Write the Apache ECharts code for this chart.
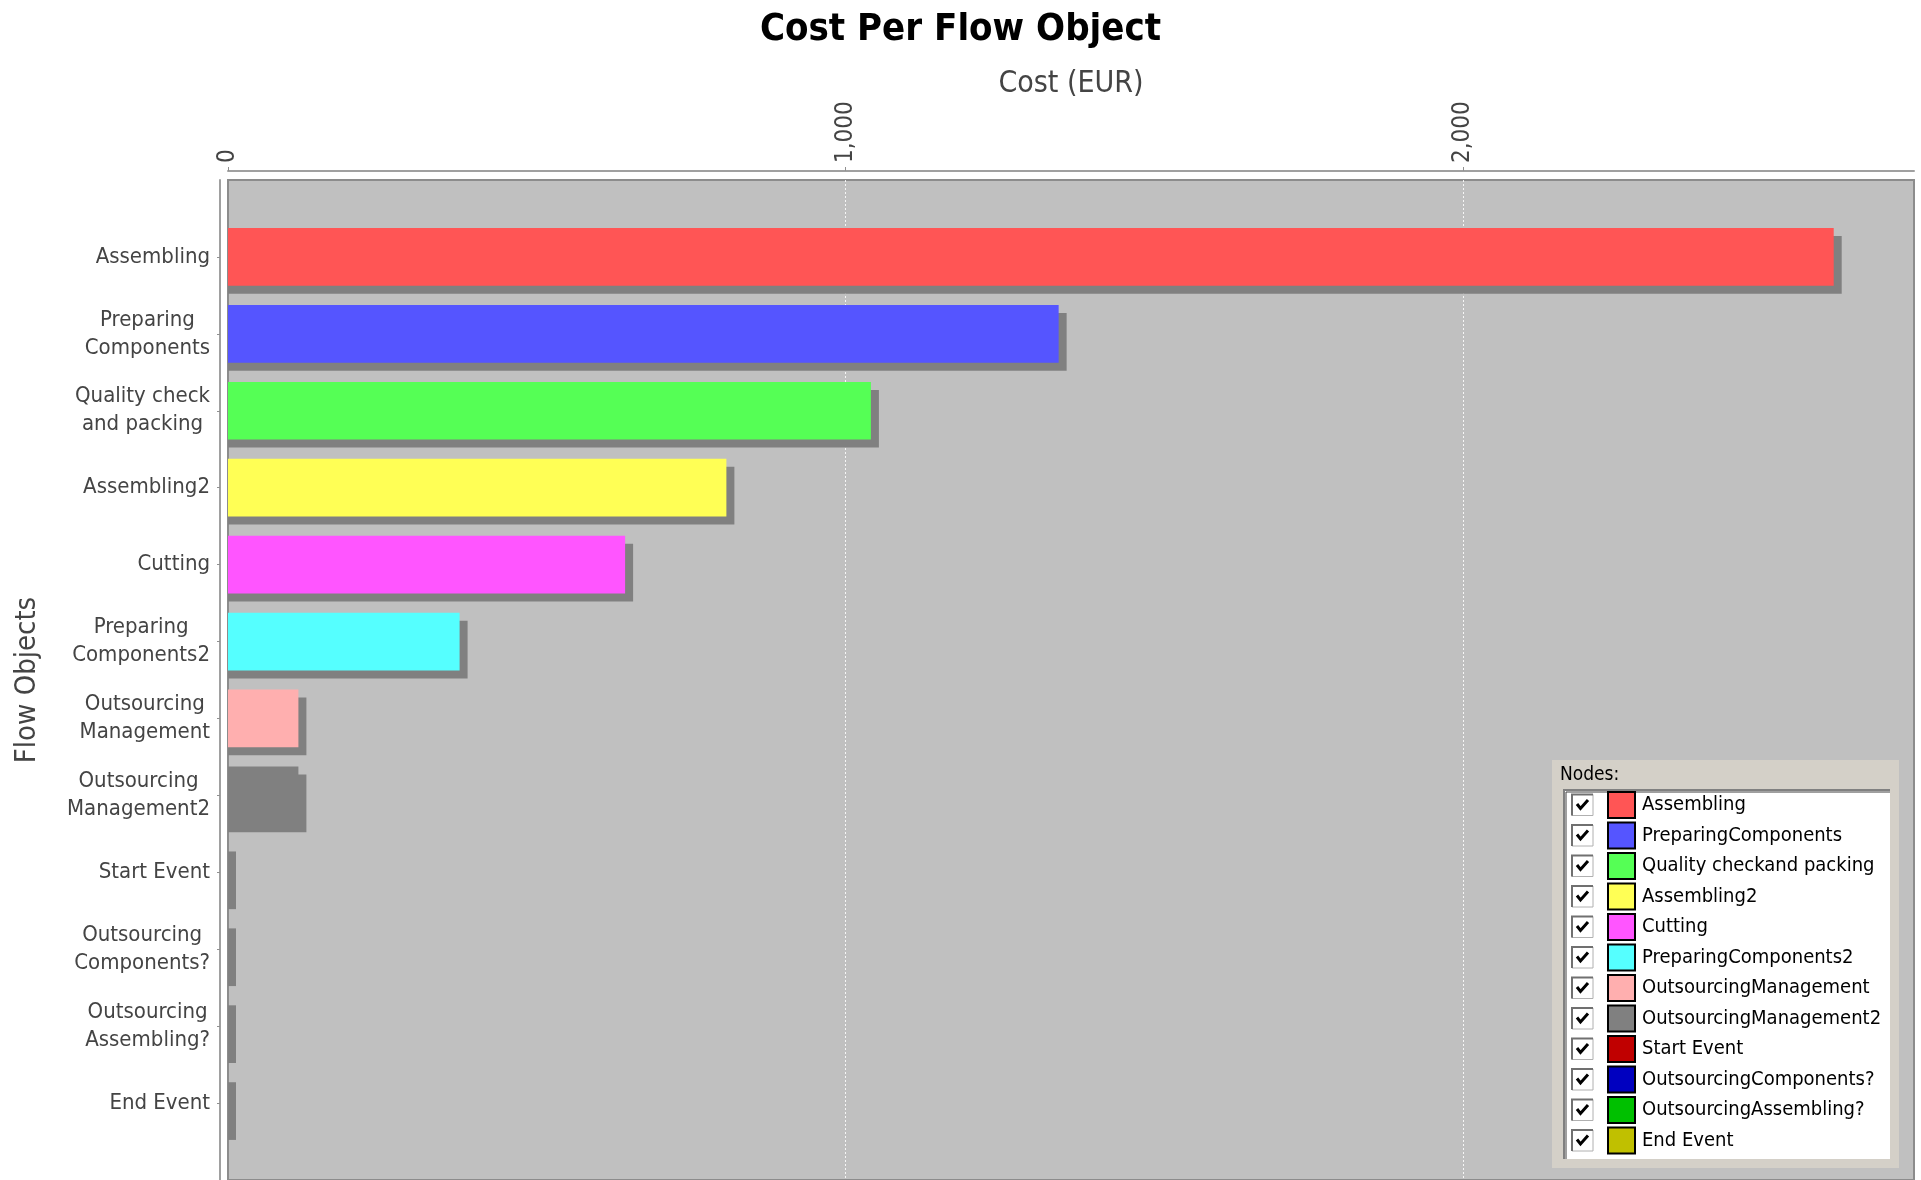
<!DOCTYPE html>
<html>
<head>
<meta charset="utf-8">
<script src="https://cdn.jsdelivr.net/npm/echarts@6/dist/echarts.min.js"></script>
<style>
  html, body { margin: 0; padding: 0; background: #ffffff; }
  #chart { width: 1921px; height: 1180px; }
</style>
</head>
<body>
<div id="chart"></div>
<script>
// Flow objects (axis labels use line breaks, the node list joins them)
const categories = [
  'Assembling',
  'Preparing\nComponents',
  'Quality check\nand packing',
  'Assembling2',
  'Cutting',
  'Preparing\nComponents2',
  'Outsourcing\nManagement',
  'Outsourcing\nManagement2',
  'Start Event',
  'Outsourcing\nComponents?',
  'Outsourcing\nAssembling?',
  'End Event'
];

// Cost per flow object, EUR
const costs = [2600, 1345, 1041, 807, 643, 375, 114, 114, 0, 0, 0, 0];

// Node paint colours
const nodeColors = [
  '#ff5555', '#5555ff', '#55ff55', '#ffff55', '#ff55ff', '#55ffff',
  '#ffafaf', '#808080', '#c00000', '#0000c0', '#00c000', '#c0c000'
];

// Cost axis ticks
const costTicks = [0, 1000, 2000];

const nodeNames = categories.map(c => c.replace('\n', ''));
const categoryIndex = categories.map((c, i) => i);

const FONT = '"DejaVu Sans Condensed", "DejaVu Sans", sans-serif';
const TEXT_GREY = '#444444';
const SHADOW_OFFSET = 8;
const BAR_RATIO = 0.75;

// Auto range with a 5% upper margin
const costAxisMax = Math.max(...costs) * 1.05;

function renderBar(params, api) {
  const idx = api.value(0);
  const val = api.value(1);
  const start = api.coord([0, idx]);
  const end = api.coord([val, idx]);
  const h = api.size([0, 1])[1] * BAR_RATIO;
  const top = start[1] - h / 2;
  const w = end[0] - start[0];
  return {
    type: 'group',
    children: [
      { type: 'rect', shape: { x: start[0], y: top + SHADOW_OFFSET, width: w + SHADOW_OFFSET, height: h },
        style: { fill: '#808080' } },
      { type: 'rect', shape: { x: start[0], y: top, width: w, height: h },
        style: { fill: nodeColors[idx] } }
    ]
  };
}

// Node list panel with check boxes and colour swatches
function buildNodeList() {
  const P = { x: 1552, y: 760, w: 347, h: 408 };
  const L = { x: 1563, y: 789, w: 327, h: 370 };
  const row0 = 805, pitch = 30.5;
  const els = [];
  els.push({ type: 'rect', shape: { x: P.x, y: P.y, width: P.w, height: P.h },
    style: { fill: '#d4d0c8' }, z: 100 });
  els.push({ type: 'text', x: P.x + 8, y: P.y + 15,
    style: { text: 'Nodes:', font: '19px ' + FONT, fill: '#000000', verticalAlign: 'middle' }, z: 101 });
  els.push({ type: 'rect', shape: { x: L.x, y: L.y, width: L.w, height: L.h },
    style: { fill: '#ffffff' }, z: 101 });
  els.push({ type: 'polyline', shape: { points: [[L.x + 1, L.y + L.h], [L.x + 1, L.y + 1], [L.x + L.w, L.y + 1]] },
    style: { stroke: '#808080', lineWidth: 2, fill: null }, z: 102 });
  els.push({ type: 'polyline', shape: { points: [[L.x + 3, L.y + L.h], [L.x + 3, L.y + 3], [L.x + L.w, L.y + 3]] },
    style: { stroke: '#404040', lineWidth: 1, fill: null }, z: 102 });
  nodeNames.forEach((name, i) => {
    const cy = row0 + pitch * i;
    const bx = 1572, by = cy - 10.5, bs = 21;
    els.push({ type: 'rect', shape: { x: bx, y: by, width: bs, height: bs },
      style: { fill: '#ffffff', stroke: '#b0b0b0', lineWidth: 1 }, z: 103 });
    els.push({ type: 'polyline', shape: { points: [[bx, by + bs], [bx, by], [bx + bs, by]] },
      style: { stroke: '#707070', lineWidth: 2, fill: null }, z: 104 });
    els.push({ type: 'polyline', shape: { points: [[bx + 5, by + 9.5], [bx + 8.5, by + 14], [bx + 16, by + 5.5]] },
      style: { stroke: '#000000', lineWidth: 3, fill: null, lineJoin: 'miter' }, z: 104 });
    els.push({ type: 'rect', shape: { x: 1608, y: cy - 13, width: 27, height: 26 },
      style: { fill: nodeColors[i], stroke: '#000000', lineWidth: 2 }, z: 103 });
    els.push({ type: 'text', x: 1642, y: cy,
      style: { text: name, font: '20px ' + FONT, fill: '#000000', verticalAlign: 'middle' }, z: 103 });
  });
  return els;
}

const chart = echarts.init(document.getElementById('chart'), null, { renderer: 'canvas' });

chart.setOption({
  animation: false,
  backgroundColor: '#ffffff',
  title: {
    text: 'Cost Per Flow Object',
    left: 'center',
    top: 11,
    padding: 0,
    textStyle: { fontFamily: FONT, fontWeight: 'bold', fontSize: 38, color: '#000000' }
  },
  grid: {
    left: 228, top: 180, width: 1686, height: 1001,
    show: true, backgroundColor: '#c0c0c0', borderColor: '#8c8c8c', borderWidth: 2,
    containLabel: false
  },
  xAxis: {
    type: 'value',
    position: 'top',
    offset: 9,
    min: 0,
    max: costAxisMax,
    interval: 1000,
    name: 'Cost (EUR)',
    nameLocation: 'middle',
    nameGap: 72,
    nameMoveOverlap: false,
    nameTextStyle: { fontFamily: FONT, fontSize: 30, color: TEXT_GREY },
    axisLine: { show: true, onZero: false, lineStyle: { color: '#a0a0a0', width: 2 } },
    axisTick: { show: true, length: 4, customValues: costTicks, lineStyle: { color: '#909090' } },
    axisLabel: {
      customValues: costTicks,
      rotate: -90,
      margin: 8,
      fontFamily: FONT, fontSize: 24, color: TEXT_GREY,
      formatter: v => v.toLocaleString('en-US')
    },
    splitLine: {
      show: true, showMinLine: false,
      lineStyle: { color: '#ffffff', width: 1, type: [2, 2], opacity: 0.85 }
    }
  },
  yAxis: {
    type: 'value',
    inverse: true,
    position: 'left',
    offset: 8,
    min: -1,
    max: categories.length,
    interval: 1,
    name: 'Flow Objects',
    nameLocation: 'middle',
    nameRotate: 90,
    nameGap: 178,
    nameMoveOverlap: false,
    nameTextStyle: { fontFamily: FONT, fontSize: 29, color: TEXT_GREY },
    axisLine: { show: true, onZero: false, lineStyle: { color: '#a0a0a0', width: 2 } },
    axisTick: { show: true, length: 3, customValues: categoryIndex, lineStyle: { color: '#909090' } },
    axisLabel: {
      customValues: categoryIndex,
      margin: 10,
      fontFamily: FONT, fontSize: 22, color: TEXT_GREY, lineHeight: 28,
      formatter: v => categories[v].split('\n').map(line => '{c|' + line + '}').join('\n'),
      rich: { c: { align: 'center', fontFamily: FONT, fontSize: 22, color: TEXT_GREY, lineHeight: 28 } }
    },
    splitLine: { show: false }
  },
  series: [{
    type: 'custom',
    name: 'Cost',
    renderItem: renderBar,
    encode: { x: 1, y: 0 },
    data: costs.map((v, i) => [i, v]),
    clip: true
  }],
  graphic: buildNodeList()
});
</script>
</body>
</html>
